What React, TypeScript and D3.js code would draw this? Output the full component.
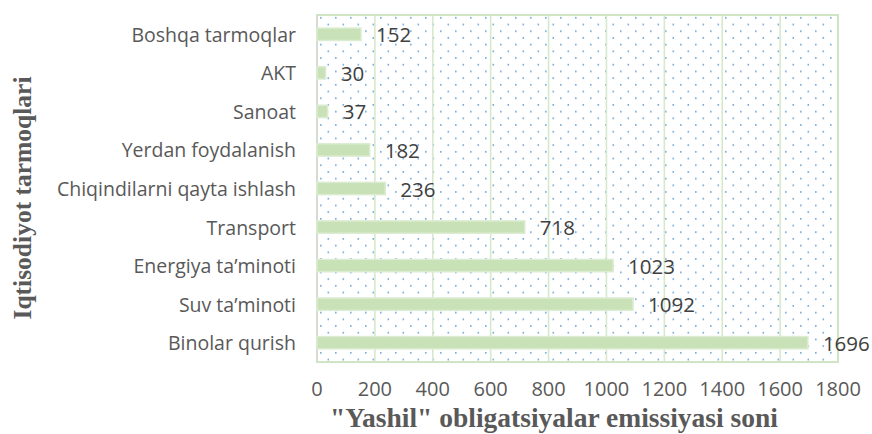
import React from "react";
import * as d3 from "d3";

const categories = [
  "Boshqa tarmoqlar",
  "AKT",
  "Sanoat",
  "Yerdan foydalanish",
  "Chiqindilarni qayta ishlash",
  "Transport",
  "Energiya ta’minoti",
  "Suv ta’minoti",
  "Binolar qurish",
];
const values = [152, 30, 37, 182, 236, 718, 1023, 1092, 1696];
const xTicks = [0, 200, 400, 600, 800, 1000, 1200, 1400, 1600, 1800];
const xTitle = "\"Yashil\" obligatsiyalar emissiyasi soni";
const yTitle = "Iqtisodiyot tarmoqlari";

const W = 872;
const H = 434;
const plot = { left: 317, right: 838, top: 15, bottom: 362 };

export default function App() {
  const x = d3.scaleLinear().domain([0, 1800]).range([plot.left, plot.right]);
  const y = d3
    .scaleBand<string>()
    .domain(categories)
    .range([plot.top, plot.bottom])
    .paddingInner(0.68)
    .paddingOuter(0.34);
  const font = "'Open Sans', sans-serif";
  const serif = "'Liberation Serif', 'Times New Roman', serif";
  return (
    <svg
      width={W}
      height={H}
      style={{ position: "absolute", left: 0, top: 0, background: "#fff" }}
    >
      <defs>
        <pattern
          id="dots"
          patternUnits="userSpaceOnUse"
          x={plot.left}
          y={plot.top}
          width={15}
          height={13.4}
        >
          <rect x={3} y={2} width={1.6} height={1.6} fill="#5b9bd5" opacity={0.9} />
          <rect x={10.5} y={8.7} width={1.6} height={1.6} fill="#5b9bd5" opacity={0.9} />
        </pattern>
      </defs>
      <rect
        x={plot.left}
        y={plot.top}
        width={plot.right - plot.left}
        height={plot.bottom - plot.top}
        fill="url(#dots)"
      />
      {xTicks.slice(1, -1).map((t) => (
        <line
          key={t}
          x1={x(t)}
          x2={x(t)}
          y1={plot.top}
          y2={plot.bottom}
          stroke="#d6e9cc"
          strokeWidth={1.6}
        />
      ))}
      <rect
        x={plot.left}
        y={plot.top}
        width={plot.right - plot.left}
        height={plot.bottom - plot.top}
        fill="none"
        stroke="#cfe5c3"
        strokeWidth={2}
      />
      <line
        x1={plot.left}
        x2={plot.left}
        y1={plot.top}
        y2={plot.bottom}
        stroke="#d9d9d9"
        strokeWidth={1.5}
      />
      {categories.map((c, i) => (
        <g key={c}>
          <rect
            x={x(0)}
            y={y(c)!}
            width={x(values[i]) - x(0)}
            height={y.bandwidth()}
            fill="#c8e1b7"
            stroke="#dcecd2"
            strokeWidth={1.5}
          />
          <text
            x={x(values[i]) + 15}
            y={y(c)! + y.bandwidth() / 2}
            dominantBaseline="central"
            fontFamily={font}
            fontSize={20.5}
            fill="#404040"
          >
            {values[i]}
          </text>
          <text
            x={296}
            y={y(c)! + y.bandwidth() / 2}
            dominantBaseline="central"
            textAnchor="end"
            fontFamily={font}
            fontSize={19.5}
            fill="#595959"
          >
            {c}
          </text>
        </g>
      ))}
      {xTicks.map((t) => (
        <text
          key={t}
          x={x(t)}
          y={388}
          dominantBaseline="central"
          textAnchor="middle"
          fontFamily={font}
          fontSize={20}
          fill="#595959"
        >
          {t}
        </text>
      ))}
      <text
        x={554}
        y={427}
        textAnchor="middle"
        fontFamily={serif}
        fontWeight="bold"
        fontSize={27.5}
        fill="#595959"
      >
        {xTitle}
      </text>
      <text
        transform="translate(22,198) rotate(-90)"
        textAnchor="middle"
        dominantBaseline="central"
        fontFamily={serif}
        fontWeight="bold"
        fontSize={25.5}
        fill="#595959"
      >
        {yTitle}
      </text>
    </svg>
  );
}
